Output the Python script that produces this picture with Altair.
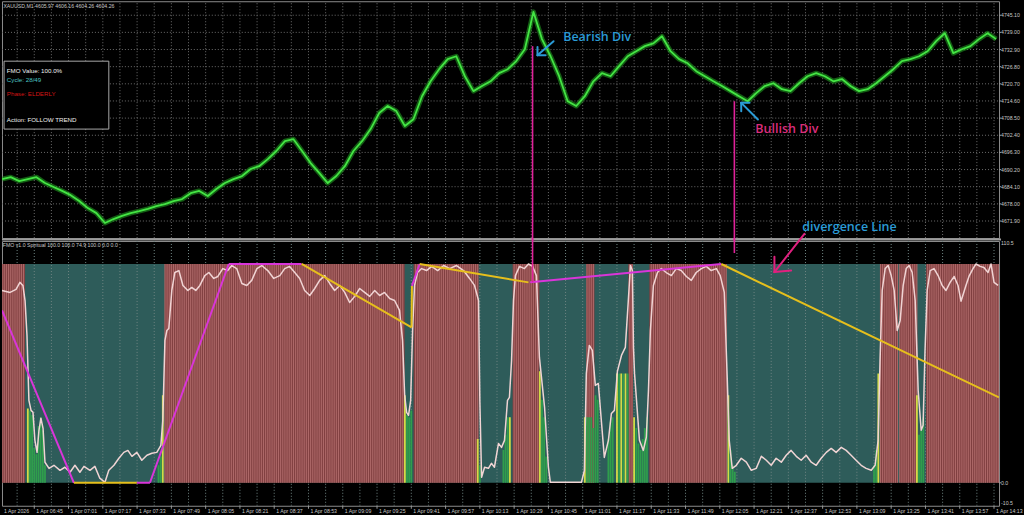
import altair as alt
import numpy as np
import pandas as pd

# ---------------- scales (minutes of day on 1 Apr 2026) ----------------
T0, T1 = 389.94, 855.34
P_LO, P_HI = 4665.85, 4750.07
V_LO, V_HI = -10.5, 110.5
W, H_PRICE, H_IND = 998, 237, 265
MIN_PER_PX = (T1 - T0) / W
P_PER_PX = (P_HI - P_LO) / H_PRICE
V_PER_PX = (V_HI - V_LO) / H_IND

FONT = "Liberation Sans"
GRID = "#6c6c6c"
LABEL = "#c8c8c8"

# ---------------- data ----------------
grid_times = list(range(397, 856, 8))
tick_minutes = list(range(405, 856, 16))
price_ticks = [4671.90, 4678.00, 4684.10, 4690.20, 4696.30, 4702.40, 4708.50,
               4714.60, 4720.70, 4726.80, 4732.90, 4739.00, 4745.10]
ind_ticks = [110.5, 0.0, -10.5]

price_times = list(range(390, 855, 4))
price_close = [
    4686.8, 4687.5, 4686.1, 4686.8, 4687.5, 4685.4, 4684.0, 4682.6, 4681.1, 4679.0,
    4676.5, 4674.7, 4671.2, 4672.6, 4673.7, 4674.7, 4675.4, 4676.2, 4677.2, 4677.9,
    4679.0, 4679.7, 4681.8, 4682.6, 4680.8, 4683.3, 4685.4, 4686.8, 4687.9, 4690.4,
    4691.4, 4693.9, 4696.8, 4700.3, 4701.0, 4696.8, 4692.5, 4689.0, 4685.4, 4687.9,
    4691.4, 4696.8, 4700.3, 4704.6, 4710.3, 4712.8, 4711.0, 4705.7, 4708.1, 4716.3,
    4721.6, 4725.9, 4729.5, 4730.5, 4723.4, 4718.1, 4719.9, 4721.6, 4724.5, 4725.9,
    4728.8, 4733.0, 4746.3, 4736.6, 4730.5, 4723.4, 4714.5, 4712.8, 4716.3, 4721.6,
    4724.5, 4723.4, 4727.0, 4730.5, 4732.3, 4734.1, 4735.1, 4737.6, 4732.3, 4729.5,
    4728.0, 4725.2, 4723.4, 4721.6, 4719.9, 4718.1, 4716.3, 4714.5, 4717.4, 4719.9,
    4720.9, 4718.8, 4718.1, 4720.9, 4723.4, 4724.5, 4723.4, 4721.6, 4722.4, 4719.9,
    4718.1, 4718.8, 4720.9, 4723.4, 4725.9, 4728.8, 4729.5, 4730.5, 4732.3, 4735.9,
    4738.7, 4731.6, 4733.0, 4734.1, 4736.6, 4738.7, 4736.6,
]

# FMO oscillator line (minute, value)
fmo_line = [
    (389.9, 87.9), (393.7, 87.0), (396.5, 88.4), (398.3, 91.6), (399.7, 90.2), (400.7, 83.3),
    (401.6, 67.4), (402.5, 37.7), (403.5, 33.1), (404.4, 32.2), (405.3, 19.4), (406.3, 13.9),
    (407.2, 24.0), (408.1, 29.5), (409.1, 24.9), (410.0, 9.4), (411.9, 6.6), (414.2, 8.0),
    (417.0, 5.7), (419.3, 7.1), (421.7, 4.8), (424.0, 8.0), (426.3, 4.8), (428.2, 7.5),
    (431.0, 5.7), (433.3, 7.5), (435.6, 2.1), (438.0, 0.2), (439.8, 5.7), (442.2, 8.0),
    (444.5, 11.2), (446.8, 13.9), (448.7, 14.8), (450.6, 12.1), (452.9, 13.9), (455.2, 10.3),
    (457.6, 12.6), (459.9, 13.5), (462.2, 13.9), (464.1, 17.1), (465.0, 28.5), (466.0, 65.1),
    (466.9, 69.6), (467.8, 70.5), (469.2, 87.9), (470.6, 96.1), (472.5, 97.0), (474.4, 90.2),
    (476.7, 87.9), (478.5, 89.3), (480.4, 87.9), (482.3, 90.2), (484.6, 94.7), (486.5, 96.1),
    (488.8, 93.4), (490.7, 94.3), (493.0, 97.9), (495.3, 97.0), (497.2, 99.3), (499.5, 97.9),
    (501.9, 91.1), (504.2, 90.2), (506.5, 92.5), (508.9, 97.9), (511.2, 99.3), (514.0, 97.0),
    (516.8, 93.4), (519.6, 94.7), (521.9, 97.9), (524.2, 98.9), (526.6, 96.1), (528.9, 93.4),
    (531.2, 87.9), (533.6, 85.6), (535.9, 88.8), (538.2, 92.5), (540.6, 94.7), (542.9, 91.1),
    (545.2, 87.9), (547.6, 90.2), (549.9, 87.0), (552.2, 82.4), (554.6, 85.2), (556.9, 88.8),
    (559.2, 87.0), (561.6, 85.2), (563.9, 87.9), (566.2, 85.6), (568.5, 87.0), (570.9, 84.2),
    (573.2, 83.3), (575.5, 78.8), (576.9, 65.1), (577.9, 40.0), (578.8, 32.2), (579.7, 30.8),
    (580.7, 37.7), (581.6, 69.6), (582.5, 90.2), (583.9, 96.1), (585.8, 97.9), (588.1, 97.0),
    (590.5, 98.9), (593.3, 97.0), (596.1, 99.3), (598.9, 97.9), (602.1, 99.3), (605.4, 97.0),
    (608.2, 93.4), (610.5, 90.2), (612.4, 83.3), (613.0, 37.0), (613.8, 2.5), (615.2, 7.1),
    (617.0, 6.6), (618.4, 8.9), (619.8, 7.1), (621.7, 18.0), (623.1, 16.2), (624.5, 19.4),
    (625.9, 37.7), (626.8, 39.0), (627.8, 55.9), (628.7, 83.3), (629.6, 94.7), (631.5, 98.9),
    (633.8, 97.9), (635.7, 100.0), (637.6, 98.9), (639.4, 94.7), (640.8, 57.3), (643.2, 34.5),
    (645.0, 7.1), (645.9, 0.2), (660.4, 0.2), (661.8, 5.7), (662.7, 50.0), (664.1, 62.8),
    (665.5, 60.5), (666.9, 44.5), (668.3, 45.4), (671.1, 11.6), (673.0, 19.4), (674.4, 31.7),
    (675.8, 33.1), (677.2, 50.9), (679.1, 58.2), (680.9, 61.9), (682.3, 83.3), (683.3, 99.3),
    (684.2, 97.0), (684.7, 61.9), (685.2, 50.0), (687.5, 19.4), (689.3, 14.8), (690.7, 20.8),
    (691.7, 42.2), (692.6, 69.6), (694.0, 90.2), (695.9, 96.1), (697.7, 97.9), (700.0, 96.1),
    (702.4, 94.7), (704.7, 97.9), (707.0, 97.0), (709.4, 94.3), (711.7, 92.5), (714.0, 96.1),
    (716.4, 97.9), (718.7, 98.9), (721.0, 97.0), (723.4, 97.9), (725.2, 94.7), (727.1, 87.0),
    (728.5, 46.8), (729.4, 19.4), (730.8, 6.6), (732.7, 8.0), (735.0, 11.2), (737.4, 9.4),
    (739.7, 5.7), (742.0, 6.6), (744.4, 12.1), (746.7, 10.3), (749.0, 8.0), (751.3, 11.2),
    (753.7, 9.4), (756.0, 12.6), (758.3, 14.8), (760.7, 12.1), (763.0, 10.3), (765.3, 12.6),
    (767.7, 9.4), (770.0, 8.0), (772.3, 11.2), (774.7, 13.9), (777.0, 15.7), (779.3, 13.9),
    (781.7, 16.2), (784.0, 14.8), (786.3, 12.6), (788.6, 10.3), (791.0, 8.0), (793.3, 6.6),
    (795.7, 5.7), (797.5, 8.0), (798.9, 19.4), (799.8, 55.9), (800.8, 87.9), (802.2, 97.9),
    (803.6, 99.3), (805.0, 94.7), (806.4, 87.9), (807.8, 69.6), (809.2, 74.2), (810.6, 90.2),
    (812.0, 97.9), (813.4, 99.3), (814.8, 96.1), (816.2, 83.3), (817.6, 42.2), (819.0, 24.0),
    (819.9, 26.3), (820.8, 60.5), (821.8, 87.9), (823.2, 97.0), (825.0, 97.9), (826.9, 94.7),
    (828.8, 90.2), (830.6, 87.9), (832.5, 91.6), (834.4, 94.3), (836.2, 90.2), (837.6, 83.0),
    (839.9, 90.2), (841.3, 94.3), (843.2, 97.9), (844.6, 100.0), (846.5, 98.9), (848.3, 98.4),
    (850.2, 96.1), (851.6, 100.0), (853.0, 91.6), (854.9, 90.2),
]

# phase segments drawn as red histogram (start minute, end minute)
red_segments = [(389.9, 400.7), (466.0, 577.9), (582.1, 612.4), (628.3, 640.8),
                (662.7, 666.5), (682.3, 684.5), (692.1, 728.0), (799.8, 808.0),
                (809.0, 817.0), (821.3, 855.3)]

# green / yellow histogram bars (minute, value, colour)
hist_t = [402, 403, 404, 405, 406, 407, 408, 409, 410,
          463, 464, 465,
          578, 579, 580, 581,
          612, 613,
          624, 625, 626, 627,
          641, 642, 643, 644,
          662, 663, 664, 665, 666, 667, 668,
          673, 674, 675,
          677, 678, 679, 680, 681, 682, 685,
          686, 687, 688, 689, 690, 691,
          729, 730, 731, 732,
          797, 798, 799,
          817, 818, 819, 820]
hist_v = [34, 33, 31, 16, 13, 26, 30, 24, 8,
          8, 12, 40,
          40, 31, 30, 33,
          20, 8,
          15, 22, 30, 30,
          51, 38, 30, 12,
          30, 30, 30, 30, 25, 40, 38,
          20, 28, 30,
          50, 50, 50, 50, 50, 50, 30,
          25, 18, 15, 20, 25, 30,
          40, 15, 8, 5,
          8, 15, 50,
          40, 22, 24, 30]
hist_kind = ['y', 'g', 'g', 'g', 'g', 'g', 'g', 'g', 'g',
             'g', 'g', 'y',
             'y', 'g', 'g', 'g',
             'y', 'g',
             'g', 'g', 'g', 'y',
             'y', 'g', 'g', 'g',
             'y', 'g', 'g', 'g', 'g', 'g', 'g',
             'g', 'g', 'g',
             'y', 'g', 'y', 'g', 'y', 'g', 'y',
             'g', 'g', 'g', 'g', 'g', 'g',
             'y', 'g', 'g', 'g',
             'g', 'g', 'y',
             'y', 'g', 'g', 'g']

# divergence line segments: (t1, v1, t2, v2, colour)
MAG, YEL = "#d935d9", "#e6bf1c"
div_segments = [
    (389.94, 78.8, 423.5, 0.0, MAG),
    (423.5, 0.0, 452.9, 0.0, YEL),
    (452.9, 0.0, 459.0, 0.0, MAG),
    (459.0, 0.0, 495.8, 100.0, MAG),
    (495.8, 100.0, 529.8, 100.0, MAG),
    (529.8, 100.0, 581.1, 71.0, YEL),
    (581.1, 71.0, 581.3, 90.0, YEL),
    (581.3, 90.0, 584.9, 100.0, MAG),
    (584.9, 100.0, 635.7, 91.6, YEL),
    (636.5, 91.6, 725.7, 100.0, MAG),
    (725.7, 100.0, 855.3, 39.0, YEL),
]

# annotation anchors
CONN = "#e0229a"
BLUE = "#2b9bd6"
PINK = "#dc2d7c"
connector_t = [637.6, 731.8]
connector_price = [4734.1, 4714.5]
connector_value = [91.6, 105.0]

arrows_price = [  # (t1, p1, t2, p2)
    (647.4, 4735.86, 639.9, 4730.88), (639.9, 4730.88, 639.9, 4733.8), (639.9, 4730.88, 643.7, 4730.88),
    (742.8, 4708.03, 735.0, 4713.93), (735.0, 4713.93, 735.0, 4710.9), (735.0, 4713.93, 738.9, 4713.93),
]
arrows_ind = [  # (t1, v1, t2, v2)
    (764.5, 113.8, 750.5, 96.3), (750.5, 96.3, 750.5, 103.3), (750.5, 96.3, 758.3, 97.0),
]

notes_text = ["Bearish Div", "Bullish Div", "divergence Line"]
notes_t = [651.9, 741.6, 763.5]
notes_p = [4737.3, 4704.6, 4669.9]
notes_col = [BLUE, PINK, BLUE]

info_text = ["FMO Value: 100.0%", "Cycle: 28/49", "Phase: ELDERLY", "Action: FOLLOW TREND"]
info_p = [4725.4, 4721.9, 4717.1, 4707.7]
info_col = ["#f0f0f0", "#4cc4c4", "#d41515", "#f0f0f0"]

price_header = "XAUUSD,M1  4605.97 4606.16 4604.26 4604.26"
ind_header = "FMO v1.0 Spiritual 100.0 100.0 74.9 100.0 0.0 0.0"

# ---------------- helpers ----------------
xs = alt.Scale(domain=[T0, T1], nice=False, zero=False)
ysp = alt.Scale(domain=[P_LO, P_HI], nice=False, zero=False)
ysi = alt.Scale(domain=[V_LO, V_HI], nice=False, zero=False)


def X(f):
    return alt.X(f, type="quantitative", scale=xs, axis=None)


def YP(f):
    return alt.Y(f, type="quantitative", scale=ysp, axis=None)


def YI(f):
    return alt.Y(f, type="quantitative", scale=ysi, axis=None)


def txt(df, **kw):
    base = dict(align="left", baseline="middle", font=FONT, fontSize=5.2, color=LABEL)
    base.update(kw)
    return alt.Chart(df).mark_text(**base)


# ---------------- price panel ----------------
hgrid_df = pd.DataFrame({"p": price_ticks, "a": T0, "b": T1})
hgrid = alt.Chart(hgrid_df).mark_rule(color=GRID, strokeDash=[1, 2], strokeWidth=1, clip=True).encode(
    y=YP("p"), x=X("a"), x2="b")
vgrid_p_df = pd.DataFrame({"t": grid_times, "a": P_LO, "b": P_HI})
vgrid_p = alt.Chart(vgrid_p_df).mark_rule(color=GRID, strokeDash=[1, 2], strokeWidth=1, clip=True).encode(
    x=X("t"), y=YP("a"), y2="b")

price_df = pd.DataFrame({"t": price_times, "p": price_close})
price_under = alt.Chart(price_df).mark_line(color="#1f991f", strokeWidth=5, opacity=0.6,
                                            strokeJoin="round", clip=True).encode(x=X("t"), y=YP("p"))
price_line = alt.Chart(price_df).mark_line(color="#44e544", strokeWidth=1.8,
                                           strokeJoin="round", clip=True).encode(x=X("t"), y=YP("p"))

# right price scale
pl_df = pd.DataFrame({"p": price_ticks, "lab": [f"{v:.2f}" for v in price_ticks],
                      "t": T1 + 2 * MIN_PER_PX, "a": T1, "b": T1 + 2 * MIN_PER_PX})
p_ticks = alt.Chart(pl_df).mark_rule(color="#9a9a9a", strokeWidth=1).encode(y=YP("p"), x=X("a"), x2="b")
p_labels = txt(pl_df).encode(x=X("t"), y=YP("p"), text="lab:N")

sep_df = pd.DataFrame({"a": [T0], "b": [T1 + 2 * MIN_PER_PX], "p": [P_LO - 1.6 * P_PER_PX]})
sep = alt.Chart(sep_df).mark_rule(color="#9c9c9c", strokeWidth=2).encode(x=X("a"), x2="b", y=YP("p"))

conn_p_df = pd.DataFrame({"t": connector_t, "p": connector_price, "p2": [P_LO - 3 * P_PER_PX] * 2})
conn_p = alt.Chart(conn_p_df).mark_rule(color=CONN, strokeWidth=1.6).encode(
    x=X("t"), y=YP("p"), y2="p2")

box_df = pd.DataFrame({"t1": [390.9], "t2": [439.8], "p1": [4704.6], "p2": [4728.75]})
box = alt.Chart(box_df).mark_rect(fill="black", stroke="#a8a8a8", strokeWidth=1).encode(
    x=X("t1"), x2="t2", y=YP("p1"), y2="p2")

info_df = pd.DataFrame({"txt": info_text, "t": [392.2] * 4, "p": info_p, "c": info_col})
info = txt(info_df, fontSize=6.2).encode(
    x=X("t"), y=YP("p"), text="txt:N", color=alt.Color("c:N", scale=None))

ph_df = pd.DataFrame({"txt": [price_header], "t": [390.6], "p": [4748.3]})
ph = txt(ph_df).encode(x=X("t"), y=YP("p"), text="txt:N")

arr_p_df = pd.DataFrame(arrows_price, columns=["t1", "p1", "t2", "p2"])
arr_p = alt.Chart(arr_p_df).mark_rule(strokeWidth=2, strokeCap="round", color=BLUE).encode(
    x=X("t1"), x2="t2", y=YP("p1"), y2="p2")

notes_df = pd.DataFrame({"txt": notes_text, "t": notes_t, "p": notes_p, "c": notes_col})
notes = alt.Chart(notes_df).mark_text(align="left", baseline="middle", font="Open Sans",
                                      fontSize=12.5, fontWeight=600).encode(
    x=X("t"), y=YP("p"), text="txt:N", color=alt.Color("c:N", scale=None))

price_panel = alt.layer(hgrid, vgrid_p, price_under, price_line, p_ticks, p_labels, sep, conn_p,
                        box, info, ph, arr_p, notes).properties(width=W, height=H_PRICE)

# ---------------- indicator panel ----------------
teal_df = pd.DataFrame({"t1": [T0], "t2": [T1], "v1": [0.0], "v2": [100.0]})
teal = alt.Chart(teal_df).mark_rect(color="#2e5c5a", clip=True).encode(
    x=X("t1"), x2="t2", y=YI("v1"), y2="v2")

vgrid_df = pd.DataFrame({"t": grid_times, "a": V_LO, "b": V_HI})
vgrid = alt.Chart(vgrid_df).mark_rule(color="#6f8583", strokeDash=[1, 2], strokeWidth=1, clip=True).encode(
    x=X("t"), y=YI("a"), y2="b")

red_df = pd.DataFrame(red_segments, columns=["s", "e"])
red_df["a"], red_df["b"] = 0.0, 100.0
red_base = alt.Chart(red_df).mark_rect(color="#803f40", clip=True).encode(
    x=X("s"), x2="e", y=YI("a"), y2="b")

stripe_t = [m for s, e in red_segments for m in np.arange(np.ceil(s), np.floor(e) + 1)]
stripe_df = pd.DataFrame({"t": stripe_t, "a": 0.0, "b": 100.0})
stripes = alt.Chart(stripe_df).mark_rule(color="#ad6868", strokeWidth=1.1, clip=True).encode(
    x=X("t"), y=YI("a"), y2="b")

hist_df = pd.DataFrame({"t": hist_t, "v": hist_v, "k": hist_kind})
hist_df["a"] = 0.0
hist_df["c"] = hist_df["k"].map({"g": "#2f9e4c", "y": "#d2dc46"})
hist = alt.Chart(hist_df).mark_rule(strokeWidth=1.8, clip=True).encode(
    x=X("t"), y=YI("a"), y2="v", color=alt.Color("c:N", scale=None))

fmo_df = pd.DataFrame(fmo_line, columns=["t", "v"])
fmo = alt.Chart(fmo_df).mark_line(color="#f0d4d4", strokeWidth=1.5, strokeJoin="round", clip=True).encode(
    x=X("t"), y=YI("v"))

div_df = pd.DataFrame(div_segments, columns=["t1", "v1", "t2", "v2", "c"])
div = alt.Chart(div_df).mark_rule(strokeWidth=2, clip=True).encode(
    x=X("t1"), x2="t2", y=YI("v1"), y2="v2", color=alt.Color("c:N", scale=None))

conn_i_df = pd.DataFrame({"t": connector_t, "a": [V_HI + 3 * V_PER_PX] * 2, "b": connector_value})
conn_i = alt.Chart(conn_i_df).mark_rule(color=CONN, strokeWidth=1.6).encode(x=X("t"), y=YI("a"), y2="b")

arr_i_df = pd.DataFrame(arrows_ind, columns=["t1", "v1", "t2", "v2"])
arr_i = alt.Chart(arr_i_df).mark_rule(color="#e0207f", strokeWidth=2, strokeCap="round").encode(
    x=X("t1"), x2="t2", y=YI("v1"), y2="v2")

ih_df = pd.DataFrame({"txt": [ind_header], "t": [390.3], "p": [108.9]})
ih = txt(ih_df).encode(x=X("t"), y=YI("p"), text="txt:N")

# right value scale
il_df = pd.DataFrame({"v": ind_ticks, "lab": [f"{v:.1f}" for v in ind_ticks],
                      "base": ["top", "middle", "bottom"], "t": T1 + 2 * MIN_PER_PX})
i_labels = alt.layer(*[
    txt(il_df[il_df["base"] == b], baseline=b).encode(x=X("t"), y=YI("v"), text="lab:N")
    for b in ["top", "middle", "bottom"]
])
it_df = pd.DataFrame({"v": [0.0], "a": [T1], "b": [T1 + 2 * MIN_PER_PX]})
i_ticks = alt.Chart(it_df).mark_rule(color="#9a9a9a", strokeWidth=1).encode(y=YI("v"), x=X("a"), x2="b")

# bottom time scale
tick_pos = [T0] + tick_minutes
tick_lab = ["1 Apr 2026"] + [f"1 Apr {m // 60:02d}:{m % 60:02d}" for m in tick_minutes]
xl_df = pd.DataFrame({"t": tick_pos, "lab": tick_lab})
xl_df["tl"] = xl_df["t"] + 2 * MIN_PER_PX
xl_df["v"] = V_LO - 5 * V_PER_PX
xl_df["a"] = V_LO
xl_df["b"] = V_LO - 3 * V_PER_PX
x_ticks = alt.Chart(xl_df.iloc[1:]).mark_rule(color="#9a9a9a", strokeWidth=1).encode(
    x=X("t"), y=YI("a"), y2="b")
x_labels = txt(xl_df).encode(x=X("tl"), y=YI("v"), text="lab:N")

ind_panel = alt.layer(teal, vgrid, red_base, stripes, hist, fmo, div, conn_i, arr_i, ih,
                      i_labels, i_ticks, x_ticks, x_labels).properties(width=W, height=H_IND)

chart = alt.vconcat(price_panel, ind_panel, spacing=3, bounds="flush").resolve_scale(
    x="independent", y="independent").properties(
    padding=0, background="black").configure_view(stroke="#8c8c8c", strokeWidth=1)

chart.save("out.html", embed_options={"renderer": "svg", "actions": False})
